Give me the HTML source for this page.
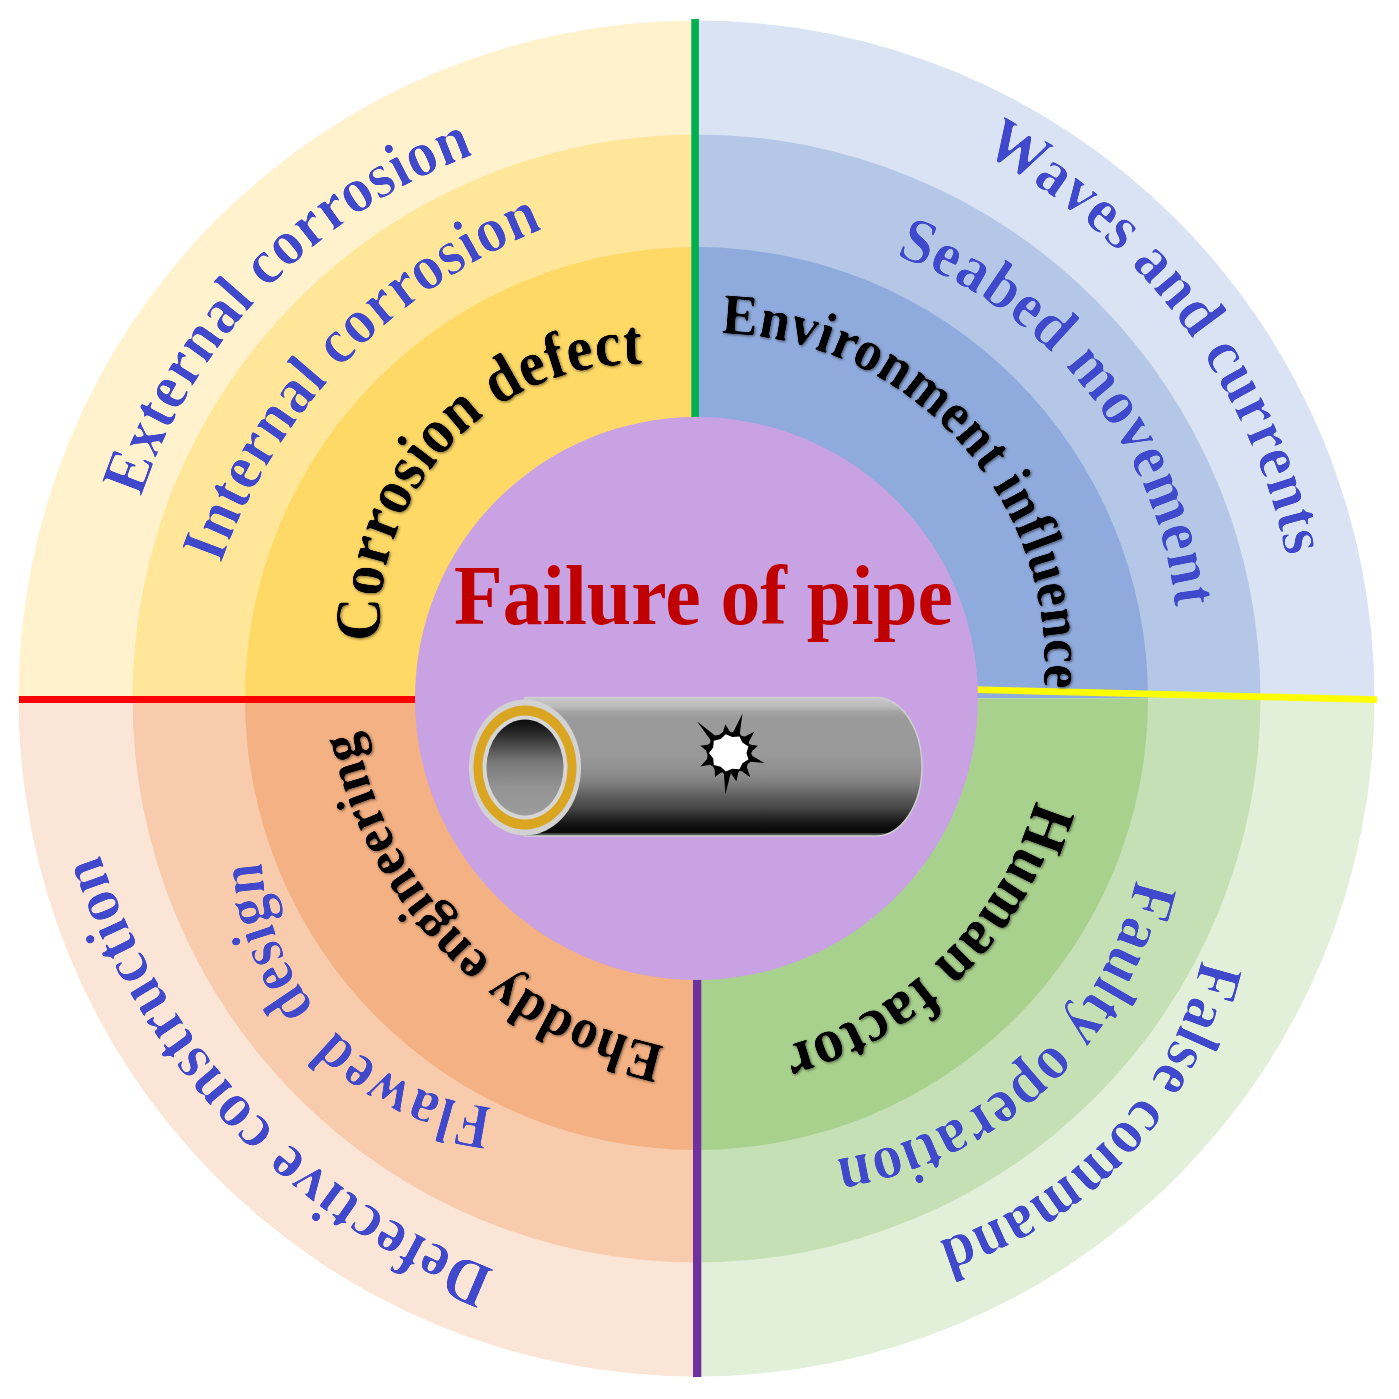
<!DOCTYPE html><html><head><meta charset="utf-8"><style>html,body{margin:0;padding:0;background:#fff;}svg{display:block;filter:blur(0.6px);}</style></head><body>
<svg width="1399" height="1399" viewBox="0 0 1399 1399">
<defs>
<filter id="sh" x="-20%" y="-20%" width="140%" height="140%"><feGaussianBlur in="SourceAlpha" stdDeviation="0.8"/><feComponentTransfer result="a"><feFuncA type="linear" slope="5.0" intercept="-2.2487"/></feComponentTransfer><feFlood flood-color="#000"/><feComposite in2="a" operator="in" result="er"/><feGaussianBlur in="er" stdDeviation="1.8"/><feOffset dx="1.2" dy="1.2"/><feComponentTransfer result="sh"><feFuncA type="linear" slope="0.55"/></feComponentTransfer><feMerge><feMergeNode in="sh"/><feMergeNode in="er"/></feMerge></filter>
<filter id="er" x="-5%" y="-5%" width="110%" height="110%"><feGaussianBlur in="SourceAlpha" stdDeviation="0.8"/><feComponentTransfer result="a"><feFuncA type="linear" slope="5.0" intercept="-2.8456"/></feComponentTransfer><feFlood flood-color="#3F48CC"/><feComposite in2="a" operator="in"/></filter>
<linearGradient id="body" x1="0" y1="0" x2="0" y2="1"><stop offset="0" stop-color="#cacaca"/><stop offset="0.03" stop-color="#c2c2c2"/><stop offset="0.065" stop-color="#bbbbbb"/><stop offset="0.1" stop-color="#a6a6a6"/><stop offset="0.14" stop-color="#9b9b9b"/><stop offset="0.43" stop-color="#989898"/><stop offset="0.57" stop-color="#8a8a8a"/><stop offset="0.64" stop-color="#787878"/><stop offset="0.72" stop-color="#5c5c5c"/><stop offset="0.8" stop-color="#454545"/><stop offset="0.856" stop-color="#2c2c2c"/><stop offset="0.914" stop-color="#141414"/><stop offset="0.957" stop-color="#0a0a0a"/><stop offset="0.975" stop-color="#0a0a0a"/><stop offset="0.985" stop-color="#555555"/><stop offset="1" stop-color="#5a5a5a"/></linearGradient>
<linearGradient id="hole" x1="0" y1="0" x2="0" y2="1"><stop offset="0" stop-color="#0a0a0a"/><stop offset="0.15" stop-color="#2a2a2a"/><stop offset="0.45" stop-color="#7a7a7a"/><stop offset="0.7" stop-color="#939393"/><stop offset="1" stop-color="#9c9c9c"/></linearGradient>
<path id="pt1" d="M141.08,498.28 A549.2,549.2 0 0 1 1185.12,839.52 A549.2,549.2 0 0 1 138.18,507.41" fill="none"/>
<path id="pt2" d="M220.55,565.59 A564.9,564.9 0 0 1 1286.85,939.01 A564.9,564.9 0 0 1 217.37,574.93" fill="none"/>
<path id="pt3" d="M380.37,641.24 A260.2,260.2 0 0 1 899.63,606.76 A260.2,260.2 0 0 1 380.71,645.77" fill="none"/>
<path id="pt4" d="M980.89,152.75 A592.5,592.5 0 0 1 433.71,1203.85 A592.5,592.5 0 0 1 971.67,148.05" fill="none"/>
<path id="pt5" d="M895.17,255.87 A420.4,420.4 0 0 1 622.83,1051.33 A420.4,420.4 0 0 1 888.21,253.55" fill="none"/>
<path id="pt6" d="M720.53,333.47 A330.9,330.9 0 0 1 706.67,995.13 A330.9,330.9 0 0 1 714.76,333.40" fill="none"/>
<path id="pt7" d="M1035.81,799.38 A360.5,360.5 0 0 1 343.79,597.02 A360.5,360.5 0 0 1 1037.52,793.33" fill="none"/>
<path id="pt8" d="M1135.84,878.01 A362.8,362.8 0 0 1 427.16,722.19 A362.8,362.8 0 0 1 1137.14,871.81" fill="none"/>
<path id="pt9" d="M1201.33,958.60 A383.0,383.0 0 0 1 454.07,790.20 A383.0,383.0 0 0 1 1202.74,952.07" fill="none"/>
<path id="pt10" d="M665.42,1046.28 A399.1,399.1 0 0 1 831.38,265.52 A399.1,399.1 0 0 1 672.25,1047.67" fill="none"/>
<path id="pt11" d="M493.50,1107.19 A258.3,258.3 0 0 1 547.50,593.41 A258.3,258.3 0 0 1 497.99,1107.62" fill="none"/>
<path id="pt12" d="M495.90,1269.89 A671.4,671.4 0 0 1 979.30,17.11 A671.4,671.4 0 0 1 506.87,1274.01" fill="none"/>
</defs>
<path d="M696.5,698.5 L696.50,20.50 A678,678 0 0 1 1374.50,698.50 Z" fill="#DAE3F3"/>
<path d="M696.5,698.5 L696.50,134.50 A564,564 0 0 1 1260.50,698.50 Z" fill="#B4C7E7"/>
<path d="M696.5,698.5 L696.50,247.00 A451.5,451.5 0 0 1 1148.00,698.50 Z" fill="#8FAADC"/>
<path d="M696.5,698.5 L1374.50,698.50 A678,678 0 0 1 696.50,1376.50 Z" fill="#E2F0D9"/>
<path d="M696.5,698.5 L1260.50,698.50 A564,564 0 0 1 696.50,1262.50 Z" fill="#C5E0B4"/>
<path d="M696.5,698.5 L1148.00,698.50 A451.5,451.5 0 0 1 696.50,1150.00 Z" fill="#A9D18E"/>
<path d="M696.5,698.5 L696.50,1376.50 A678,678 0 0 1 18.50,698.50 Z" fill="#FBE5D6"/>
<path d="M696.5,698.5 L696.50,1262.50 A564,564 0 0 1 132.50,698.50 Z" fill="#F8CBAD"/>
<path d="M696.5,698.5 L696.50,1150.00 A451.5,451.5 0 0 1 245.00,698.50 Z" fill="#F4B183"/>
<path d="M696.5,698.5 L18.50,698.50 A678,678 0 0 1 696.50,20.50 Z" fill="#FFF2CC"/>
<path d="M696.5,698.5 L132.50,698.50 A564,564 0 0 1 696.50,134.50 Z" fill="#FFE699"/>
<path d="M696.5,698.5 L245.00,698.50 A451.5,451.5 0 0 1 696.50,247.00 Z" fill="#FFD966"/>
<rect x="691.3" y="19" width="7.6" height="400" fill="#00B050"/>
<rect x="19" y="696" width="400" height="7" fill="#FF0000"/>
<rect x="693" y="975" width="8.3" height="402" fill="#7030A0"/>
<polygon points="975,686.3 1377,696.3 1377,703 975,693" fill="#FFFF00"/>
<circle cx="696.5" cy="698.5" r="281.5" fill="#C8A2E3"/>
<text font-family="Liberation Serif" font-weight="bold" font-size="65" fill="#3F48CC" filter="url(#er)"><textPath href="#pt1" textLength="495.6" lengthAdjust="spacingAndGlyphs">External corrosion</textPath></text>
<text font-family="Liberation Serif" font-weight="bold" font-size="65" fill="#3F48CC" filter="url(#er)"><textPath href="#pt2" textLength="481.1" lengthAdjust="spacingAndGlyphs">Internal corrosion</textPath></text>
<text font-family="Liberation Serif" font-weight="bold" font-size="65" fill="#000" filter="url(#sh)"><textPath href="#pt3" textLength="428.7" lengthAdjust="spacingAndGlyphs">Corrosion defect</textPath></text>
<text font-family="Liberation Serif" font-weight="bold" font-size="65" fill="#3F48CC" filter="url(#er)"><textPath href="#pt4" textLength="523.3" lengthAdjust="spacingAndGlyphs">Waves and currents</textPath></text>
<text font-family="Liberation Serif" font-weight="bold" font-size="65" fill="#3F48CC" filter="url(#er)"><textPath href="#pt5" textLength="474.7" lengthAdjust="spacingAndGlyphs">Seabed movement</textPath></text>
<text font-family="Liberation Serif" font-weight="bold" font-size="58" fill="#000" filter="url(#sh)"><textPath href="#pt6" textLength="536.5" lengthAdjust="spacingAndGlyphs">Environment influence</textPath></text>
<text font-family="Liberation Serif" font-weight="bold" font-size="63" fill="#000" filter="url(#sh)"><textPath href="#pt7" textLength="369.3" lengthAdjust="spacingAndGlyphs">Human factor</textPath></text>
<text font-family="Liberation Serif" font-weight="bold" font-size="65" fill="#3F48CC" filter="url(#er)"><textPath href="#pt8" textLength="437.5" lengthAdjust="spacingAndGlyphs">Faulty operation</textPath></text>
<text font-family="Liberation Serif" font-weight="bold" font-size="65" fill="#3F48CC" filter="url(#er)"><textPath href="#pt9" textLength="405.1" lengthAdjust="spacingAndGlyphs">False command</textPath></text>
<text font-family="Liberation Serif" font-weight="bold" font-size="57" fill="#000" filter="url(#sh)"><textPath href="#pt10" textLength="467.4" lengthAdjust="spacingAndGlyphs">Ehoddy engineering</textPath></text>
<text font-family="Liberation Serif" font-weight="bold" font-size="65" fill="#3F48CC" filter="url(#er)"><textPath href="#pt11" textLength="367.4" lengthAdjust="spacingAndGlyphs">Flawed  design</textPath></text>
<text font-family="Liberation Serif" font-weight="bold" font-size="65" fill="#3F48CC" filter="url(#er)"><textPath href="#pt12" textLength="594.1" lengthAdjust="spacingAndGlyphs">Defective construction</textPath></text>
<text x="454" y="623.5" font-family="Liberation Serif" font-weight="bold" font-size="84" fill="#C00000" textLength="499" lengthAdjust="spacingAndGlyphs">Failure of pipe</text>
<path d="M525,697.5 L876,697.5 A46,69.25 0 0 1 876,836 L525,836 Z" fill="url(#body)" stroke="#cfcfcf" stroke-width="1.5"/>
<ellipse cx="525" cy="767.5" rx="56" ry="68" fill="#d2d2d2"/>
<ellipse cx="525" cy="767.5" rx="51.5" ry="62" fill="#DAA520"/>
<ellipse cx="525" cy="767.5" rx="42.5" ry="52" fill="#d6d6d6"/>
<ellipse cx="525" cy="767.5" rx="38.5" ry="48" fill="url(#hole)"/>
<polygon points="706.0,750.6 700.4,745.7 707.6,744.7 710.2,743.0 710.5,740.0 697.1,721.4 715.0,735.6 719.5,734.7 722.9,731.9 725.4,724.3 729.4,731.1 731.4,732.6 733.6,731.4 742.5,713.6 739.8,733.4 741.6,736.1 744.9,736.6 754.3,731.8 749.1,741.3 748.7,743.6 751.0,744.7 757.9,745.7 752.6,750.6 751.1,753.2 752.5,755.9 764.3,762.9 750.7,761.8 747.7,763.9 746.9,767.3 750.4,777.5 741.9,771.3 739.3,771.0 738.1,773.1 736.4,781.4 731.7,774.6 730.9,773.2 730.4,774.7 725.4,794.3 723.9,774.1 722.6,772.3 720.3,773.1 715.0,777.1 714.7,770.0 713.1,766.6 709.7,764.8 700.4,766.4 706.9,759.3 707.6,754.9" fill="#000"/><polygon points="709.0,752.9 713.2,747.4 713.8,740.7 720.7,739.0 725.8,734.3 732.3,737.1 739.4,736.5 742.4,742.6 748.4,746.4 746.5,752.9 748.4,759.4 742.4,763.2 739.4,769.3 732.3,768.7 725.8,771.5 720.7,766.8 713.8,765.1 713.2,758.4" fill="#fff"/>
</svg></body></html>
